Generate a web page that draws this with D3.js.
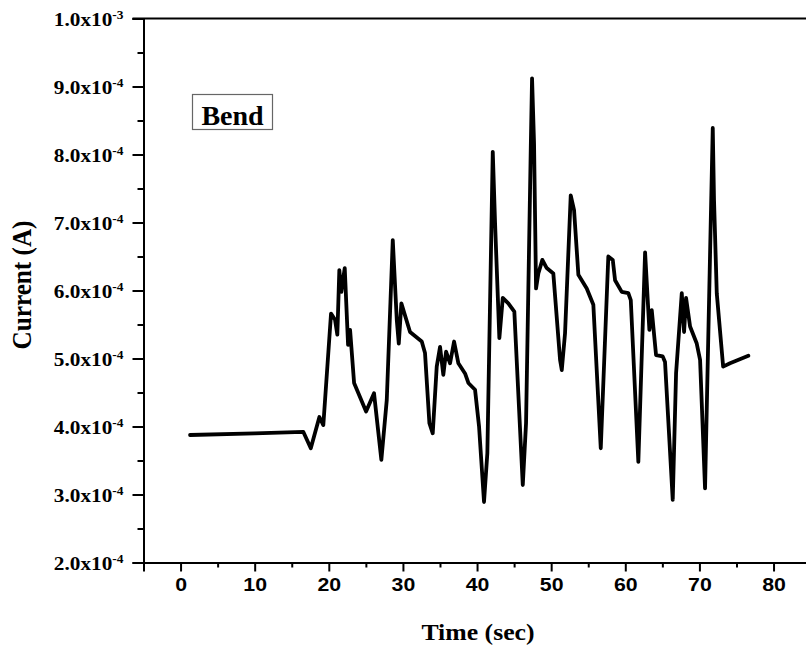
<!DOCTYPE html>
<html>
<head>
<meta charset="utf-8">
<script src="https://cdn.jsdelivr.net/npm/d3@7"></script>
<style>
  html, body { margin: 0; padding: 0; background: #fff; }
  svg { display: block; }
</style>
</head>
<body>
<svg id="chart" width="806" height="652"></svg>
<script>
// ---- data ----
const timeSec = [1.28, 10.0, 16.57, 17.57, 18.73, 19.26, 20.30, 20.84, 21.15, 21.42, 21.69, 22.15, 22.6, 22.87, 23.41, 25.03, 26.10, 27.09, 27.82, 28.63, 29.17, 29.44, 29.79, 30.96, 32.54, 32.98, 33.57, 34.02, 34.56, 35.01, 35.45, 35.82, 36.36, 36.90, 37.48, 38.38, 38.83, 39.73, 40.27, 40.94, 41.39, 42.12, 42.43, 43.01, 43.47, 44.22, 45.03, 46.17, 46.61, 47.25, 47.42, 47.69, 47.96, 48.27, 48.81, 49.40, 50.29, 51.20, 51.43, 51.87, 52.64, 53.09, 53.67, 54.80, 55.69, 56.69, 57.71, 58.31, 58.62, 59.52, 60.41, 60.74, 61.76, 62.67, 63.25, 63.57, 64.15, 65.05, 65.36, 66.40, 66.85, 67.62, 67.93, 68.20, 68.74, 69.64, 70.09, 70.76, 71.80, 71.97, 72.34, 73.20, 74.13, 76.60];
const currentA = [3.875e-4, 3.9e-4, 3.92e-4, 3.68e-4, 4.14e-4, 4.02e-4, 5.66e-4, 5.57e-4, 5.35e-4, 6.30e-4, 5.98e-4, 6.33e-4, 5.20e-4, 5.42e-4, 4.64e-4, 4.22e-4, 4.49e-4, 3.51e-4, 4.39e-4, 6.74e-4, 5.57e-4, 5.22e-4, 5.81e-4, 5.39e-4, 5.25e-4, 5.08e-4, 4.05e-4, 3.90e-4, 4.88e-4, 5.17e-4, 4.76e-4, 5.10e-4, 4.93e-4, 5.25e-4, 4.93e-4, 4.78e-4, 4.64e-4, 4.54e-4, 4.00e-4, 2.89e-4, 3.61e-4, 8.04e-4, 6.99e-4, 5.30e-4, 5.89e-4, 5.81e-4, 5.69e-4, 3.14e-4, 4.05e-4, 8.11e-4, 9.12e-4, 8.16e-4, 6.03e-4, 6.25e-4, 6.45e-4, 6.33e-4, 6.25e-4, 4.98e-4, 4.83e-4, 5.37e-4, 7.40e-4, 7.18e-4, 6.23e-4, 6.03e-4, 5.79e-4, 3.68e-4, 6.50e-4, 6.45e-4, 6.15e-4, 5.98e-4, 5.96e-4, 5.86e-4, 3.48e-4, 6.56e-4, 5.42e-4, 5.71e-4, 5.05e-4, 5.03e-4, 4.95e-4, 2.92e-4, 4.78e-4, 5.96e-4, 5.39e-4, 5.89e-4, 5.47e-4, 5.22e-4, 4.98e-4, 3.09e-4, 8.39e-4, 7.33e-4, 5.96e-4, 4.88e-4, 4.93e-4, 5.04e-4];
const xTicks = [0, 10, 20, 30, 40, 50, 60, 70, 80];
const xMinorTicks = [-5, 5, 15, 25, 35, 45, 55, 65, 75, 85];
const yTicks = [2e-4, 3e-4, 4e-4, 5e-4, 6e-4, 7e-4, 8e-4, 9e-4, 1e-3];
const yTickMantissa = ["2.0", "3.0", "4.0", "5.0", "6.0", "7.0", "8.0", "9.0", "1.0"];
const yTickExponent = ["-4", "-4", "-4", "-4", "-4", "-4", "-4", "-4", "-3"];
const yMinorTicks = [2.5e-4, 3.5e-4, 4.5e-4, 5.5e-4, 6.5e-4, 7.5e-4, 8.5e-4, 9.5e-4];
const xTitle = "Time (sec)";
const yTitle = "Current (A)";
const legendLabel = "Bend";

// ---- layout ----
const svg = d3.select("#chart");
const mLeft = 143.5, mRight = 810.6, mTop = 18.5, mBottom = 562.5;
const x = d3.scaleLinear().domain([-5, 85]).range([mLeft, mRight]);
const y = d3.scaleLinear().domain([2e-4, 1e-3]).range([mBottom, mTop]);
const serif = "'Liberation Serif', 'Times New Roman', serif";
const sans = "'Liberation Sans', Arial, sans-serif";
const sx = 1.12; // horizontal stretch seen in the reference text

// top frame line
svg.append("line")
  .attr("x1", mLeft - 11).attr("x2", 806)
  .attr("y1", mTop).attr("y2", mTop)
  .attr("stroke", "#000").attr("stroke-width", 2);

// x axis
const gx = svg.append("g").attr("transform", `translate(0,${mBottom})`);
gx.call(d3.axisBottom(x).tickValues(xTicks).tickSize(9).tickPadding(6).tickFormat(d3.format("d")));
gx.append("g").call(d3.axisBottom(x).tickValues(xMinorTicks).tickSize(5).tickFormat(""));
gx.selectAll(".domain").attr("stroke-width", 2);
gx.selectAll(".tick line").attr("stroke-width", 2);
gx.selectAll(".tick text")
  .attr("font-family", sans).attr("font-weight", "bold").attr("font-size", 19)
  .attr("fill", "#000")
  .attr("transform", `scale(${sx},1)`);

// y axis
const gy = svg.append("g").attr("transform", `translate(${mLeft},0)`);
gy.call(d3.axisLeft(y).tickValues(yTicks).tickSize(11).tickPadding(9).tickFormat(""));
gy.append("g").call(d3.axisLeft(y).tickValues(yMinorTicks).tickSize(6).tickFormat(""));
gy.selectAll(".domain").attr("stroke-width", 2);
gy.selectAll(".tick line").attr("stroke-width", 2);
gy.selectAll(":scope > .tick").each(function(d, i) {
  const t = d3.select(this).append("text")
    .attr("x", -20 / sx).attr("dy", "0.36em")
    .attr("text-anchor", "end")
    .attr("font-family", serif).attr("font-weight", "bold").attr("font-size", 19)
    .attr("fill", "#000")
    .attr("transform", `scale(${sx},1)`);
  t.append("tspan").text(yTickMantissa[i] + "x10");
  t.append("tspan").attr("dy", "-0.55em").attr("font-size", 12).text(yTickExponent[i]);
});

// data line
const line = d3.line().x((d, i) => x(timeSec[i])).y(d => y(d));
svg.append("path")
  .datum(currentA)
  .attr("d", line)
  .attr("fill", "none")
  .attr("stroke", "#000")
  .attr("stroke-width", 3.8)
  .attr("stroke-linejoin", "round")
  .attr("stroke-linecap", "round");

// legend box
svg.append("rect")
  .attr("x", 192.5).attr("y", 94.5).attr("width", 80).attr("height", 35)
  .attr("fill", "#fff").attr("stroke", "#666").attr("stroke-width", 1.2);
svg.append("text")
  .attr("x", 232.5).attr("y", 124.5)
  .attr("text-anchor", "middle")
  .attr("font-family", serif).attr("font-weight", "bold").attr("font-size", 28)
  .text(legendLabel);

// axis titles
svg.append("text")
  .attr("transform", `translate(478,640) scale(${sx},1)`)
  .attr("text-anchor", "middle")
  .attr("font-family", serif).attr("font-weight", "bold").attr("font-size", 23)
  .text(xTitle);
svg.append("text")
  .attr("transform", `translate(31,285) rotate(-90) scale(1.05,1.1)`)
  .attr("text-anchor", "middle")
  .attr("font-family", serif).attr("font-weight", "bold").attr("font-size", 24)
  .text(yTitle);
</script>
</body>
</html>
